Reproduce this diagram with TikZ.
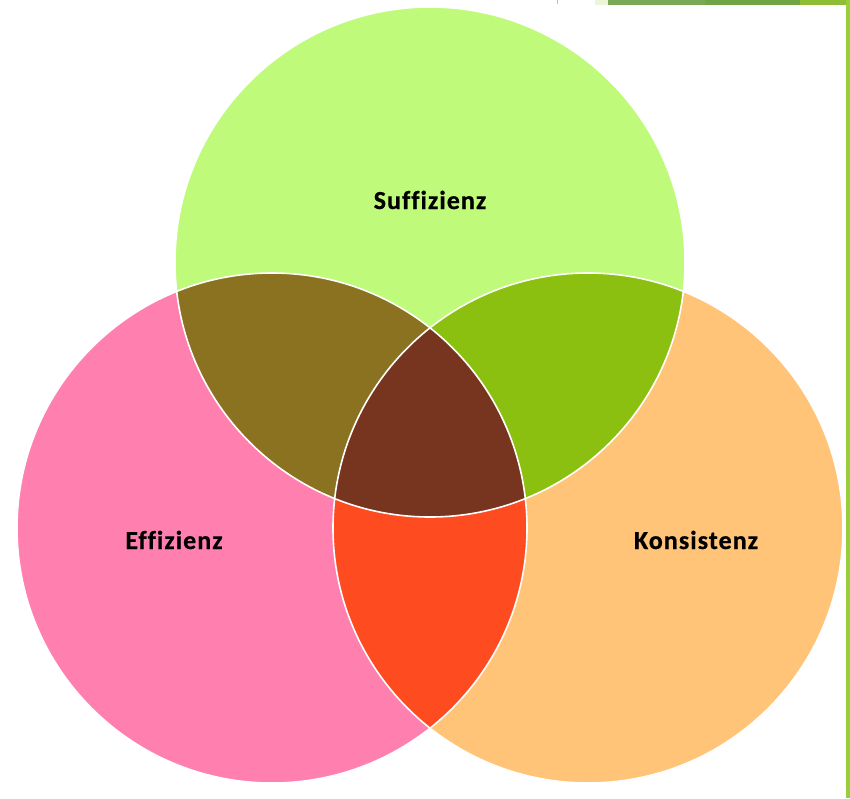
\documentclass[tikz,border=0pt]{standalone}
\usepackage{fontspec}
\setmainfont[Ligatures=NoCommon]{Carlito}
\newfontfamily\lblfont[Ligatures=NoCommon,LetterSpace=4,BoldFeatures={FakeBold=0.6}]{Carlito}
\definecolor{cgreen}{HTML}{BFFA7A}
\definecolor{cpink}{HTML}{FF7FAF}
\definecolor{corange}{HTML}{FFC478}
\definecolor{cgp}{HTML}{8A7221}
\definecolor{cgo}{HTML}{8CC010}
\definecolor{cpo}{HTML}{FF4B20}
\definecolor{call}{HTML}{773520}
\definecolor{bandA}{HTML}{EDF5D8}
\definecolor{bandB}{HTML}{7AA855}
\definecolor{bandC}{HTML}{70A445}
\definecolor{bandD}{HTML}{8FBE36}
\definecolor{stripR}{HTML}{9ACD3A}
\tikzset{
  lbl/.style={font=\lblfont\bfseries\fontsize{26}{30}\selectfont, text=black, inner sep=0pt, anchor=base},
  edge/.style={draw=white, line width=1.6pt}
}
\begin{document}
\begin{tikzpicture}[x=1pt,y=-1pt]
\useasboundingbox (0,0) rectangle (850,798);
\fill[white] (0,0) rectangle (850,798);
% slide decorations
\fill[bandA] (595,0) rectangle (608,5);
\fill[bandB] (608,0) rectangle (705,5);
\fill[bandC] (705,0) rectangle (800,5);
\fill[bandD] (800,0) rectangle (850,5);
\fill[stripR] (846,0) rectangle (850,798);
\fill[gray!50] (556.5,0) rectangle (558,4);
% circle centres
\coordinate (G) at (430,262);
\coordinate (P) at (272,528);
\coordinate (O) at (588,528);
\def\R{255}
% base circles
\fill[cgreen] (G) circle (\R);
\fill[cpink] (P) circle (\R);
\fill[corange] (O) circle (\R);
% pairwise intersections
\begin{scope}
  \clip (G) circle (\R);
  \fill[cgp] (P) circle (\R);
  \fill[cgo] (O) circle (\R);
\end{scope}
\begin{scope}
  \clip (P) circle (\R);
  \fill[cpo] (O) circle (\R);
\end{scope}
\begin{scope}
  \clip (G) circle (\R);
  \clip (P) circle (\R);
  \fill[call] (O) circle (\R);
\end{scope}
% boundaries
\draw[edge] (G) circle (\R);
\draw[edge] (P) circle (\R);
\draw[edge] (O) circle (\R);
% labels
\node[lbl] (suf) at (430,209) {Suffizienz};
\node[lbl] (eff) at (174,549) {Effizienz};
\node[lbl] (kon) at (696,549) {Konsistenz};
\end{tikzpicture}
\end{document}
